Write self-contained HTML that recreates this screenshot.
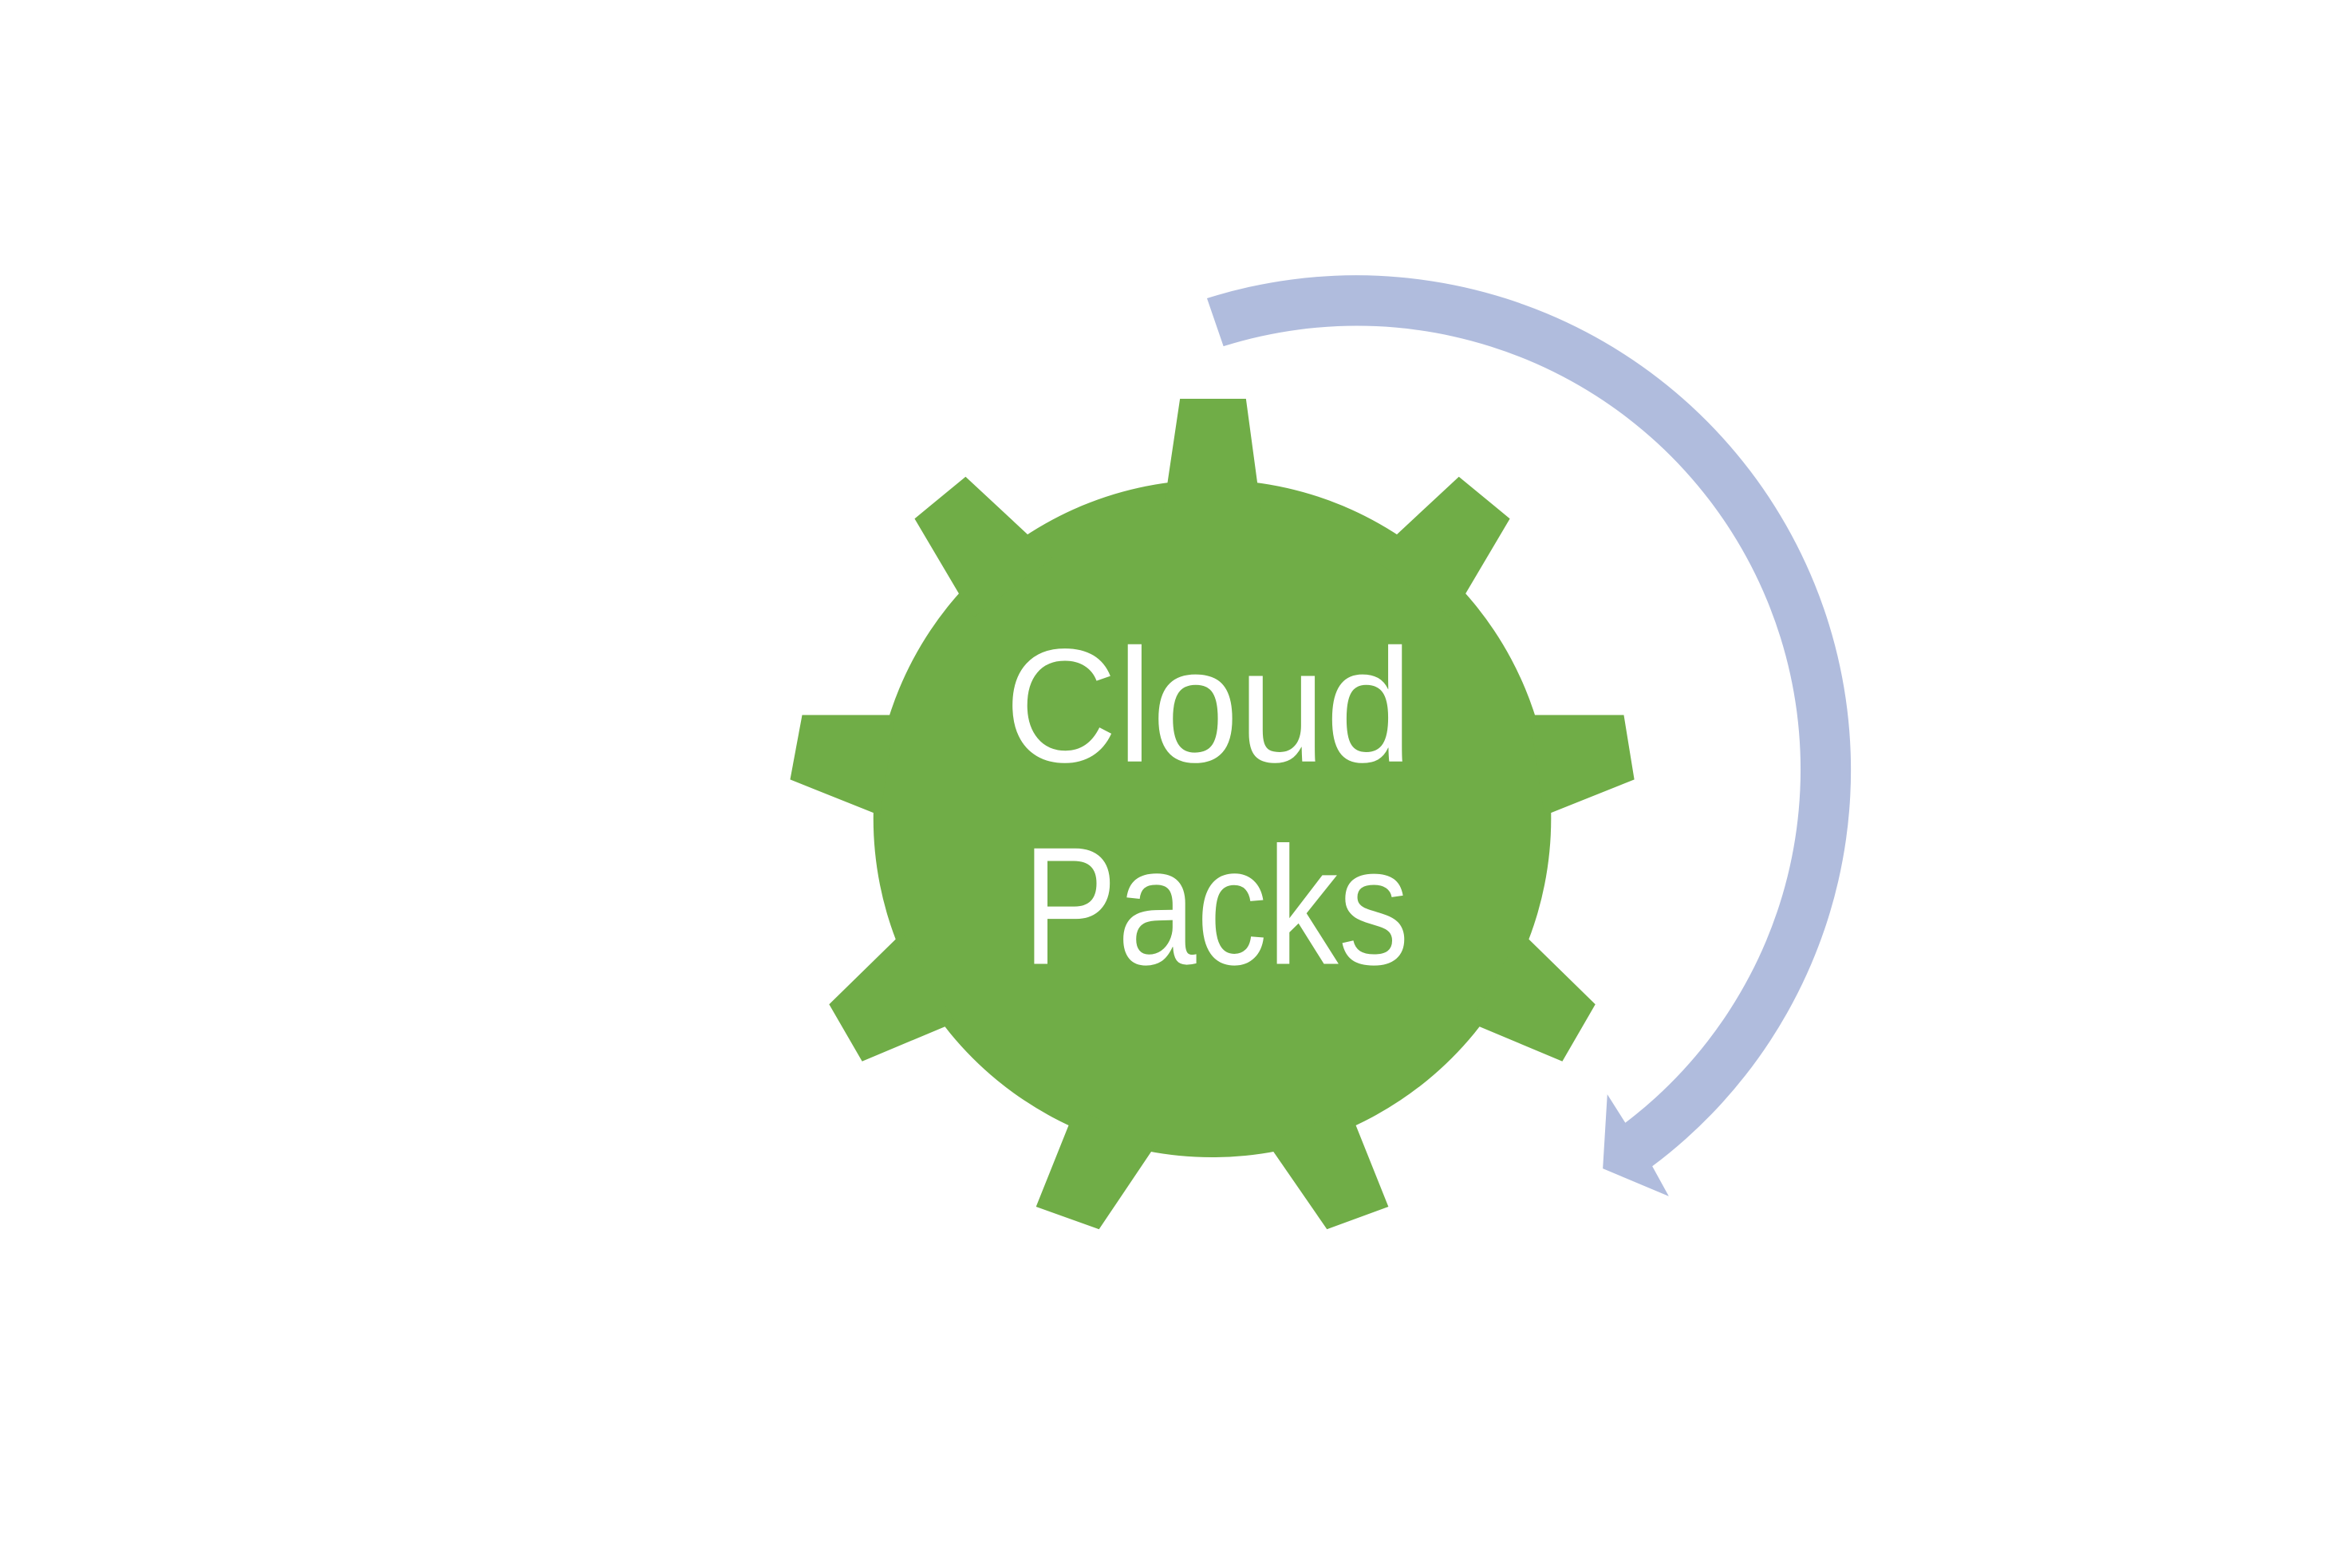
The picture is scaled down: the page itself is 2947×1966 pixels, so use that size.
<!DOCTYPE html>
<html><head><meta charset="utf-8"><style>
html,body{margin:0;padding:0;background:#fff;}
svg{display:block;}
</style></head><body>
<svg width="2947" height="1966" viewBox="0 0 1568 1046" preserveAspectRatio="none" xmlns="http://www.w3.org/2000/svg">
<rect width="1568" height="1046" fill="#fff"/>
<g fill="#70ad47">
<circle cx="808.5" cy="546" r="226"/>
<polygon points="776,340 787,266 831,266 841,340"/>
<polygon points="915,372 973,318 1007,346 968,412"/>
<polygon points="1020,477 1083,477 1090,520 1030,544"/>
<polygon points="1015,622 1064,670 1042,708 980,682"/>
<polygon points="900,740 926,805 885,820 845,762"/>
<polygon points="772,762 733,820 691,805 717,740"/>
<polygon points="637,682 575,708 553,670 602,622"/>
<polygon points="587,544 527,520 535,477 597,477"/>
<polygon points="649,412 610,346 644,318 702,372"/>
</g>
<g fill="#fff" font-family="Liberation Sans, sans-serif">
<text x="670" y="508" font-size="108" textLength="272" lengthAdjust="spacingAndGlyphs">Cloud</text>
<text x="682" y="643" font-size="112" textLength="258" lengthAdjust="spacingAndGlyphs">Packs</text>
</g>
<path d="M805,199 A330,330 0 0 1 1102,778 L1113,798 L1069,779.5 L1072,730 L1084,749 A296,296 0 0 0 816,231 Z" fill="#b0bcdd"/>
</svg>
</body></html>
